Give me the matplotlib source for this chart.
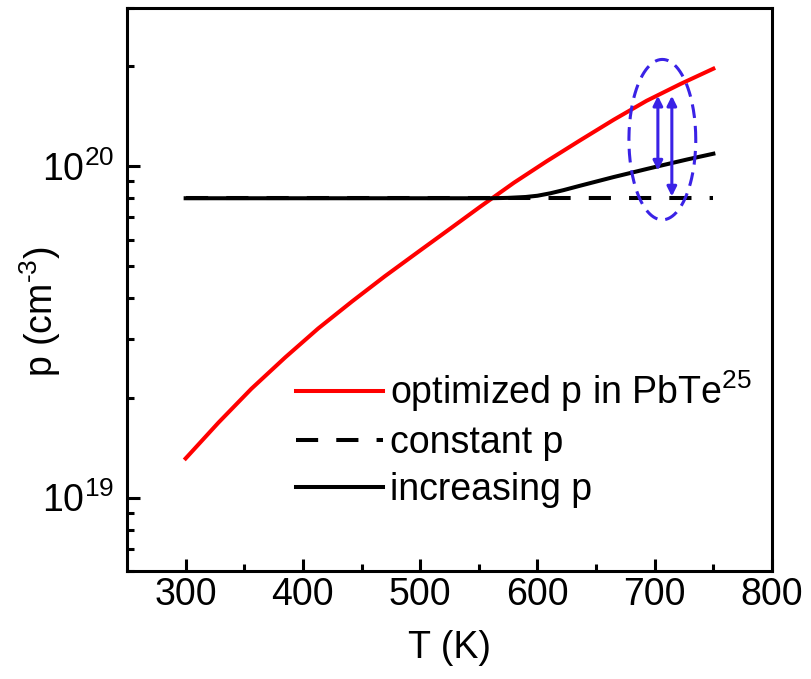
import matplotlib
matplotlib.use("Agg")
import matplotlib.pyplot as plt
import numpy as np

# arial-like font
plt.rcParams['font.family'] = ['Liberation Sans', 'DejaVu Sans']
plt.rcParams['mathtext.fontset'] = 'custom'
plt.rcParams['mathtext.rm'] = 'Liberation Sans'
plt.rcParams['mathtext.it'] = 'Liberation Sans'
plt.rcParams['mathtext.bf'] = 'Liberation Sans'

# data
T_opt = [300, 328, 356, 385, 413, 442, 470, 499, 527, 551, 580, 608, 636, 665, 693, 722, 750]
p_opt = [1.312e19, 1.683e19, 2.128e19, 2.649e19, 3.236e19, 3.908e19, 4.656e19, 5.534e19,
         6.531e19, 7.534e19, 8.913e19, 1.035e20, 1.194e20, 1.380e20, 1.574e20, 1.770e20, 1.968e20]
T_const = [300, 750]
p_const = [8e19, 8e19]
T_inc = [300, 560, 575, 590, 600, 611, 622, 636, 651, 665, 679, 693, 707, 728, 750]
p_inc = [8e19, 8e19, 8.02e19, 8.07e19, 8.14e19, 8.28e19, 8.46e19, 8.72e19, 9.0e19, 9.27e19,
         9.53e19, 9.8e19, 1.007e20, 1.048e20, 1.09e20]

# annotation: dashed ellipse and two double arrows
ell_T, ell_hw = 706.5, 28.5
ell_logp, ell_hh = 20.08, 0.242
arrow_T = [702.7, 714.6]
arrow_top = [1.63e20, 1.63e20]
arrow_bot = [9.7e19, 8.1e19]
blue = '#3a22e6'

fig = plt.figure(figsize=(8.11, 6.79), dpi=100)
ax = fig.add_axes([0.1566, 0.159, 0.7953, 0.8292])

fs = 27
ax.plot(T_opt, p_opt, color='red', lw=2.9, label='optimized p in PbTe$^{25}$')
ax.plot(T_const, p_const, color='black', lw=2.9, dashes=(5.5, 4.5), label='constant p')
ax.plot(T_inc, p_inc, color='black', lw=2.9, label='increasing p')

t = np.linspace(0, 2 * np.pi, 200)
ax.plot(ell_T + ell_hw * np.cos(t), 10 ** (ell_logp + ell_hh * np.sin(t)),
        color=blue, lw=2.2, dashes=(4.5, 2.6))
for x, top, bot in zip(arrow_T, arrow_top, arrow_bot):
    ax.annotate('', xy=(x, bot), xytext=(x, top),
                arrowprops=dict(arrowstyle='<|-|>', color=blue, lw=2.2, mutation_scale=14,
                                shrinkA=0, shrinkB=0))

ax.set_yscale('log')
ax.set_xlim(250, 800)
ax.set_ylim(6e18, 3e20)
ax.set_xticks([300, 400, 500, 600, 700, 800])
ax.set_xticks([350, 450, 550, 650, 750], minor=True)

for s in ax.spines.values():
    s.set_linewidth(2.2)
ax.tick_params(which='both', direction='in', width=2.2, labelsize=fs, top=False, right=False)
ax.tick_params(which='major', length=9)
ax.tick_params(which='minor', length=5)
ax.tick_params(axis='x', pad=4)
ax.tick_params(axis='y', pad=9)

ax.set_xlabel('T (K)', fontsize=fs)
ax.set_ylabel(r'p (cm$^{\text{-}3}$)', fontsize=fs)
ax.xaxis.set_label_coords(0.5, -0.105)
ax.yaxis.set_label_coords(-0.1, 0.46)

ax.legend(loc='upper left', bbox_to_anchor=(0.262, 0.36), frameon=False, fontsize=fs,
          handlelength=2.32, handletextpad=0.2, labelspacing=0.3, borderpad=0, borderaxespad=0)

fig.savefig('out.png', dpi=100)
